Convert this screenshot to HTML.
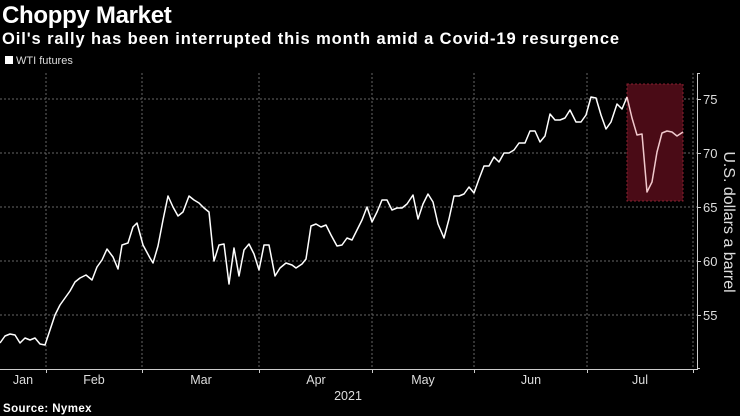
<!DOCTYPE html>
<html><head><meta charset="utf-8"><style>
html,body{margin:0;padding:0;background:#000;}
body{width:740px;height:416px;overflow:hidden;position:relative;font-family:"Liberation Sans","DejaVu Sans",sans-serif;color:#fff;}
.t{position:absolute;white-space:nowrap;}
</style></head><body>
<div class="t" style="left:2px;top:2px;font-size:24px;font-weight:bold;letter-spacing:-0.3px;">Choppy Market</div>
<div class="t" style="left:2px;top:30px;font-size:16.5px;font-weight:bold;letter-spacing:0.9px;">Oil's rally has been interrupted this month amid a Covid-19 resurgence</div>
<div class="t" style="left:5px;top:55px;font-size:11px;color:#ddd;"><span style="display:inline-block;width:8px;height:8px;background:#fff;margin-right:3px;"></span>WTI futures</div>
<svg width="740" height="416" style="position:absolute;left:0;top:0" font-family="Liberation Sans, DejaVu Sans, sans-serif">
<g stroke="#666" stroke-width="1" stroke-dasharray="2,2">
<line x1="0" y1="99" x2="697" y2="99"/><line x1="0" y1="153" x2="697" y2="153"/><line x1="0" y1="207" x2="697" y2="207"/><line x1="0" y1="261" x2="697" y2="261"/><line x1="0" y1="315" x2="697" y2="315"/>
<line x1="46" y1="73" x2="46" y2="369"/><line x1="142" y1="73" x2="142" y2="369"/><line x1="259" y1="73" x2="259" y2="369"/><line x1="372" y1="73" x2="372" y2="369"/><line x1="474" y1="73" x2="474" y2="369"/><line x1="587" y1="73" x2="587" y2="369"/><line x1="693" y1="73" x2="693" y2="369"/>
</g>
<rect x="627" y="84" width="56" height="117" fill="#4a0b16" stroke="#8a2030" stroke-dasharray="2,2"/>
<polyline fill="none" stroke="#fff" stroke-width="1.5" stroke-linejoin="round" points="0,343 5,336 10,334 15,335 20,343 25,338 30,340 35,338 40,344 45,345 50,330 55,315 60,305 65,298 70,291 75,282 80,278 86,275 92,280 97,267 102,260 107,249 113,257 118,269 122,245 128,243 133,227 137,223 143,245 150,258 153,263 158,246 163,220 168,196 173,207 178,216 183,212 189,196 194,200 199,203 204,208 209,212 214,261 219,245 224,244 229,284 234,248 239,276 244,250 249,244 254,254 259,270 264,245 269,245 275,276 280,268 286,263 292,265 296,268 302,264 306,259 311,226 316,224 321,227 326,225 331,235 337,246 342,245 347,238 352,240 357,230 362,220 367,207 372,222 377,212 382,200 387,200 392,210 397,208 402,208 407,204 413,195 418,219 423,204 428,194 433,202 438,224 444,238 449,219 454,196 459,196 464,194 469,187 474,193 479,179 484,166 489,166 494,157 499,162 504,153 509,153 514,150 519,143 525,143 530,131 535,131 540,142 545,136 550,114 555,120 560,120 565,118 570,110 576,122 581,122 586,115 591,97 596,98 601,115 606,129 611,122 617,104 622,109 627,97"/>
<polyline fill="none" stroke="#f0c8cc" stroke-width="1.5" stroke-linejoin="round" points="627,97 632,118 637,135 642,134 647,192 652,182 657,152 662,133 667,131 672,132 677,136 683,132"/>
<g stroke="#ccc" stroke-width="1">
<line x1="697.5" y1="73" x2="697.5" y2="369"/><line x1="0" y1="369.5" x2="698" y2="369.5"/>
<line x1="697" y1="99.5" x2="701" y2="99.5"/><line x1="697" y1="153.5" x2="701" y2="153.5"/><line x1="697" y1="207.5" x2="701" y2="207.5"/><line x1="697" y1="261.5" x2="701" y2="261.5"/><line x1="697" y1="315.5" x2="701" y2="315.5"/><line x1="697" y1="73.5" x2="700" y2="73.5"/><line x1="697" y1="368.5" x2="700" y2="368.5"/>
<line x1="46.5" y1="369" x2="46.5" y2="373"/><line x1="142.5" y1="369" x2="142.5" y2="373"/><line x1="259.5" y1="369" x2="259.5" y2="373"/><line x1="372.5" y1="369" x2="372.5" y2="373"/><line x1="474.5" y1="369" x2="474.5" y2="373"/><line x1="587.5" y1="369" x2="587.5" y2="373"/><line x1="693.5" y1="369" x2="693.5" y2="373"/>
</g>
<g fill="#ddd" font-size="13">
<text x="703" y="104">75</text><text x="703" y="158">70</text><text x="703" y="212">65</text><text x="703" y="266">60</text><text x="703" y="320">55</text>
</g>
<g fill="#ddd" font-size="12.5" text-anchor="middle">
<text x="23" y="384">Jan</text><text x="94" y="384">Feb</text><text x="201" y="384">Mar</text><text x="316" y="384">Apr</text><text x="423" y="384">May</text><text x="531" y="384">Jun</text><text x="640" y="384">Jul</text>
<text x="348" y="400">2021</text>
</g>
<text x="0" y="0" fill="#ddd" font-size="16" text-anchor="middle" transform="translate(724,222) rotate(90)">U.S. dollars a barrel</text>
<text x="3" y="412" fill="#fff" font-size="11.5" font-weight="bold" letter-spacing="0.4">Source: Nymex</text>
</svg>
</body></html>
